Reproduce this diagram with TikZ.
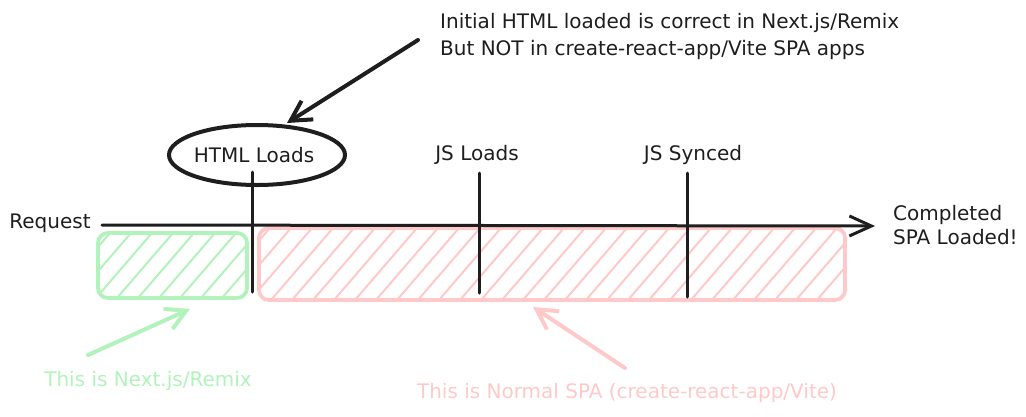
\documentclass[tikz,border=0pt]{standalone}
\usepackage{fontspec}
\setmainfont{DejaVu Sans}
\usetikzlibrary{arrows.meta,shapes.geometric}
\definecolor{lgreen}{HTML}{B2F2BB}
\definecolor{lred}{HTML}{FFC9C9}
\definecolor{ink}{HTML}{1E1E1E}
\begin{document}
\begin{tikzpicture}[x=1pt,y=-1pt,
  txt/.style={font=\fontsize{20}{27}\selectfont, inner sep=0pt, text=ink},
  tickline/.style={draw=ink, line width=3pt, line cap=round},
  axisline/.style={draw=ink, line width=3pt, line cap=round, line join=round, -{Straight Barb[length=22pt,width=20pt]}},
  arr/.style={line width=4pt, line cap=round, line join=round, -{Straight Barb[length=20pt,width=22pt]}},
  barbox/.style={line width=3.8pt, rounded corners=10pt},
  hatch/.style={line width=2pt, line cap=round}]
\useasboundingbox (0,0) rectangle (1026,416);

% hatched boxes
\begin{scope}
  \clip[rounded corners=10pt] (98,233) rectangle (247,298);
  \foreach \x in {12,33,...,260} \draw[hatch, lgreen] (\x,298) -- ++(56,-65);
\end{scope}
\draw[barbox, lgreen] (98,233) rectangle (247,298);
\node[inner sep=0pt, minimum width=149pt, minimum height=65pt] (greenbox) at (172.5,265.5) {};

\begin{scope}
  \clip[rounded corners=10pt] (259,228) rectangle (845,300);
  \foreach \x in {208,229,...,850} \draw[hatch, lred] (\x,300) -- ++(62,-72);
\end{scope}
\draw[barbox, lred] (259,228) rectangle (845,300);
\node[inner sep=0pt, minimum width=586pt, minimum height=72pt] (redbox) at (552,264) {};

% axis
\coordinate (axstart) at (102,225);
\coordinate (axend) at (875,226);
\draw[axisline] (axstart) -- (axend);
\node[txt, anchor=center] (request) at (50,223) {Request};
\node[txt, anchor=west, align=left, font=\fontsize{20}{24}\selectfont] (completed) at (893,225) {Completed\\SPA Loaded!};

% ticks
\coordinate (t1a) at (252,172); \coordinate (t1b) at (252,292);
\coordinate (t2a) at (479,173); \coordinate (t2b) at (479,293);
\coordinate (t3a) at (687,173); \coordinate (t3b) at (687,297);
\draw[tickline] (t1a) -- (t1b);
\draw[tickline] (t2a) -- (t2b);
\draw[tickline] (t3a) -- (t3b);

% tick labels
\node[draw=ink, ellipse, line width=4pt, minimum width=176pt, minimum height=60pt, inner sep=0pt] (ring) at (257,155) {};
\node[txt] (html) at (254,155) {HTML Loads};
\node[txt] (jsloads) at (477,155) {JS Loads};
\node[txt] (jssynced) at (693,155) {JS Synced};

% top note
\node[txt, anchor=west, align=left] (note) at (440,36.5) {Initial HTML loaded is correct in Next.js/Remix\\But NOT in create-react-app/Vite SPA apps};
\coordinate (noteArrS) at (418,40);
\coordinate (noteArrE) at (287,123);
\draw[arr, draw=ink] (noteArrS) -- (noteArrE);

% bottom notes
\node[txt, text=lgreen] (greennote) at (148,381) {This is Next.js/Remix};
\coordinate (gS) at (88,355);
\coordinate (gE) at (190,309);
\draw[arr, draw=lgreen] (gS) -- (gE);

\node[txt, text=lred] (rednote) at (627,393) {This is Normal SPA (create-react-app/Vite)};
\coordinate (rS) at (625,368);
\coordinate (rE) at (533,307);
\draw[arr, draw=lred] (rS) -- (rE);
\end{tikzpicture}
\end{document}
